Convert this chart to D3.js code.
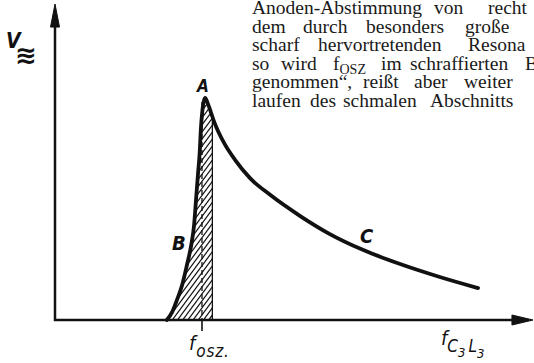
<!DOCTYPE html>
<html>
<head>
<meta charset="utf-8">
<script src="https://cdn.jsdelivr.net/npm/d3@7"></script>
<style>
  html, body { margin: 0; padding: 0; background: #fff; }
  svg { display: block; }
</style>
</head>
<body>
<svg id="chart"></svg>
<script>
// resonance curve, frequency (arbitrary units) vs. amplitude
const freq = [23.4, 24.5, 25.5, 26.6, 27.6, 28.5, 29.1, 29.5, 29.9, 30.3, 30.5, 30.8, 31.2, 31.4,
  32.0, 32.6, 33.3, 34.1, 35.6, 37.7, 40.8, 45.0, 51.3, 57.5, 64.4, 72.2, 80.5, 88.5];
const amp = [0, 2.5, 6.3, 11.1, 17.4, 23.7, 30.1, 38.0, 45.9, 53.8, 60.1, 65.8, 69.6, 70.3,
  68.4, 65.8, 62.7, 59.8, 55.4, 50.6, 44.9, 39.6, 32.9, 27.2, 22.2, 17.7, 13.6, 10.1];
const fOsz = 30.75;      // oscillator frequency (dashed line)
const hatchEnd = 33.05;  // right edge of the hatched band
const curveLabels = ['A', 'B', 'C'];

// the running text of the page that sits above the figure (cut at the right)
const textLines = [
  [['Anoden-Abstimmung', 252], ['von', 434], ['recht', 488]],
  [['dem', 252], ['durch', 303], ['besonders', 366], ['große', 465]],
  [['scharf', 252], ['hervortretenden', 318], ['Resona', 468]],
  [['so', 252], ['wird', 281], ['f_OSZ', 333], ['im', 381], ['schraffierten', 410], ['B', 525]],
  [['genommen“,', 252], ['reißt', 363], ['aber', 414], ['weiter', 464]],
  [['laufen', 252], ['des', 310], ['schmalen', 343], ['Abschnitts', 430]]
];

const W = 534, H = 363;
const ink = '#111';
const hand = '"DejaVu Sans Condensed", "DejaVu Sans", sans-serif';

const svg = d3.select('#chart')
  .attr('width', W)
  .attr('height', H);

const x = d3.scaleLinear().domain([0, 100]).range([55, 533]);
const y = d3.scaleLinear().domain([0, 100]).range([320, 4]);

const pts = freq.map((f, i) => [f, amp[i]]);
const curve = d3.curveMonotoneX;

const line = d3.line()
  .x((d) => x(d[0]))
  .y((d) => y(d[1]))
  .curve(curve);

const area = d3.area()
  .x((d) => x(d[0]))
  .y0(y(0))
  .y1((d) => y(d[1]))
  .curve(curve);

const defs = svg.append('defs');
defs.append('clipPath').attr('id', 'under')
  .append('path').attr('d', area(pts));
defs.append('clipPath').attr('id', 'band')
  .append('rect')
    .attr('x', 0).attr('y', 0)
    .attr('width', x(hatchEnd)).attr('height', H);

// hatched band under the curve, left of hatchEnd
const hatch = svg.append('g')
  .attr('clip-path', 'url(#band)')
  .append('g')
    .attr('clip-path', 'url(#under)');

hatch.selectAll('line')
  .data(d3.range(-50, 20))
  .enter()
  .append('line')
    .attr('x1', (k) => x(fOsz) + k * 5.2)
    .attr('y1', y(0) + 2)
    .attr('x2', (k) => x(fOsz) + k * 5.2 + 170)
    .attr('y2', y(0) - 228)
    .attr('stroke', ink)
    .attr('stroke-width', 1.2);

hatch.append('line')
  .attr('x1', x(hatchEnd) - 0.6).attr('x2', x(hatchEnd) - 0.6)
  .attr('y1', y(0)).attr('y2', y(100))
  .attr('stroke', ink)
  .attr('stroke-width', 1.3);

// dashed line at f_osz
svg.append('line')
  .attr('x1', x(fOsz)).attr('x2', x(fOsz))
  .attr('y1', y(69)).attr('y2', y(0))
  .attr('stroke', ink)
  .attr('stroke-width', 1.3)
  .attr('stroke-dasharray', '5,3');
svg.append('line')
  .attr('x1', x(fOsz)).attr('x2', x(fOsz))
  .attr('y1', y(0)).attr('y2', y(0) + 11)
  .attr('stroke', ink)
  .attr('stroke-width', 1.6);

// axes with arrow heads
svg.append('path')
  .attr('d', `M${x(0)},${y(92.7)} V${y(0)} H${x(95.6)}`)
  .attr('fill', 'none')
  .attr('stroke', ink)
  .attr('stroke-width', 2.5);
svg.append('path')
  .attr('d', `M${x(0)},${y(100)} L${x(0) + 4.5},${y(92.7)} L${x(0) - 4.5},${y(92.7)} Z`)
  .attr('fill', ink)
  .attr('stroke', ink)
  .attr('stroke-linejoin', 'round');
svg.append('path')
  .attr('d', `M${x(100)},${y(0)} L${x(95.6)},${y(0) - 5} L${x(95.6)},${y(0) + 5} Z`)
  .attr('fill', ink)
  .attr('stroke', ink)
  .attr('stroke-linejoin', 'round');

// the curve
svg.append('path')
  .attr('d', line(pts))
  .attr('fill', 'none')
  .attr('stroke', ink)
  .attr('stroke-width', 3.8)
  .attr('stroke-linecap', 'round')
  .attr('stroke-linejoin', 'round');

// curve labels
const labelPos = [[197, 92, 17], [172, 250, 20], [360, 243, 20]];
svg.selectAll('text.lbl')
  .data(curveLabels)
  .enter()
  .append('text')
    .attr('class', 'lbl')
    .attr('x', (d, i) => labelPos[i][0])
    .attr('y', (d, i) => labelPos[i][1])
    .attr('font-family', hand)
    .attr('font-style', 'oblique')
    .attr('font-weight', 'bold')
    .attr('font-size', (d, i) => labelPos[i][2])
    .attr('fill', ink)
    .text((d) => d);

// y axis title V≋
svg.append('text')
  .attr('x', 6).attr('y', 48)
  .attr('font-family', hand)
  .attr('font-style', 'oblique')
  .attr('font-weight', 'bold')
  .attr('font-size', 21)
  .attr('fill', ink)
  .text('V');
svg.append('text')
  .attr('x', 15).attr('y', 64)
  .attr('font-family', 'DejaVu Sans, sans-serif')
  .attr('font-weight', 'bold')
  .attr('font-size', 26)
  .attr('fill', ink)
  .text('≋');

// f_osz. under the axis
const fo = svg.append('text')
  .attr('x', 189).attr('y', 350)
  .attr('font-family', hand)
  .attr('font-style', 'oblique')
  .attr('font-size', 20)
  .attr('fill', ink);
fo.append('tspan').text('f');
fo.append('tspan').attr('dy', 7).attr('dx', 1).attr('font-size', 17)
  .attr('letter-spacing', 0.8).text('osz.');

// x axis title f_C3L3
const fc = svg.append('text')
  .attr('x', 441).attr('y', 345)
  .attr('font-family', hand)
  .attr('font-style', 'oblique')
  .attr('font-size', 20)
  .attr('fill', ink);
fc.append('tspan').text('f');
fc.append('tspan').attr('dy', 7).attr('font-size', 17).text('C');
fc.append('tspan').attr('dy', 5).attr('font-size', 13).text('3');
fc.append('tspan').attr('dy', -5).attr('dx', 3).attr('font-size', 17).text('L');
fc.append('tspan').attr('dy', 6).attr('font-size', 13).text('3');

// page text
const para = svg.append('g')
  .attr('font-family', '"Liberation Serif", "Times New Roman", serif')
  .attr('font-size', 19.5)
  .attr('fill', '#1a1a1a');

textLines.forEach((words, li) => {
  words.forEach(([w, wx]) => {
    const t = para.append('text')
      .attr('x', wx)
      .attr('y', 14 + li * 18.6);
    if (w.includes('_')) {
      const [base, sub] = w.split('_');
      t.append('tspan').text(base);
      t.append('tspan').attr('dy', 4).attr('font-size', 14).text(sub);
    } else {
      t.text(w);
    }
  });
});
</script>
</body>
</html>
